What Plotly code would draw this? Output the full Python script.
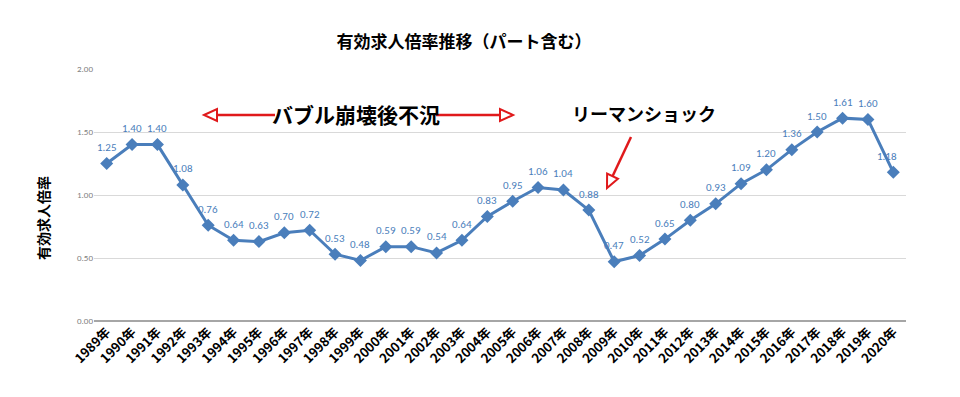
import math
import plotly.graph_objects as go

years = [f"{y}年" for y in range(1989, 2021)]
ratios = [1.25, 1.40, 1.40, 1.08, 0.76, 0.64, 0.63, 0.70, 0.72, 0.53, 0.48, 0.59, 0.59,
          0.54, 0.64, 0.83, 0.95, 1.06, 1.04, 0.88, 0.47, 0.52, 0.65, 0.80, 0.93, 1.09,
          1.20, 1.36, 1.50, 1.61, 1.60, 1.18]
y_ticks = [0.0, 0.5, 1.0, 1.5, 2.0]

BLUE = "#4A7EBB"
RED = "#E0191B"
JP = "Noto Sans CJK JP"
NUM = "Carlito, Calibri, Liberation Sans, sans-serif"

# browser body margin offset
OFF = 8
W, H = 960 - OFF, 397 - OFF
# plot area in page pixels
L, T = 94 - OFF, 69 - OFF
PR, PB = 906 - OFF, 321 - OFF
PW, PH = PR - L, PB - T


def px(x):
    return (x - OFF - L) / PW


def py(y):
    return (PB - (y - OFF)) / PH


fig = go.Figure()
fig.add_trace(go.Scatter(
    x=years, y=ratios, mode="lines+markers",
    line=dict(color=BLUE, width=3),
    marker=dict(symbol="diamond", size=10, color=BLUE),
    hoverinfo="skip",
))

shapes = []


def open_tri(tip, base_from, length=13, half=6):
    dx, dy = tip[0] - base_from[0], tip[1] - base_from[1]
    d = math.hypot(dx, dy)
    ux, uy = dx / d, dy / d
    bx, by = tip[0] - ux * length, tip[1] - uy * length
    nx, ny = -uy, ux
    p1 = (bx + nx * half, by + ny * half)
    p2 = (bx - nx * half, by - ny * half)
    path = "M {} {} L {} {} L {} {} Z".format(px(tip[0]), py(tip[1]), px(p1[0]), py(p1[1]),
                                             px(p2[0]), py(p2[1]))
    shapes.append(dict(type="path", xref="paper", yref="paper", path=path,
                       line=dict(color=RED, width=2), fillcolor="white"))
    return (bx, by)


def arrow(start, tip):
    base = open_tri(tip, start)
    shapes.append(dict(type="line", xref="paper", yref="paper",
                       x0=px(start[0]), y0=py(start[1]), x1=px(base[0]), y1=py(base[1]),
                       line=dict(color=RED, width=2.5)))


arrow((275, 115), (204, 115))
arrow((436, 115), (513, 115))
arrow((631, 137), (607, 188))

annotations = [
    dict(text="有効求人倍率", x=px(43), y=py(218), xref="paper", yref="paper",
         textangle=-90, showarrow=False, xanchor="center", yanchor="middle",
         font=dict(family=JP, size=14, color="#000000", weight="bold")),
    dict(text="バブル崩壊後不況", x=px(356), y=py(114), xref="paper", yref="paper",
         showarrow=False, xanchor="center", yanchor="middle",
         font=dict(family=JP, size=21, color="#000000", weight="bold")),
    dict(text="リーマンショック", x=px(644), y=py(113), xref="paper", yref="paper",
         showarrow=False, xanchor="center", yanchor="middle",
         font=dict(family=JP, size=18, color="#000000", weight="bold")),
]
for i, (yr, v) in enumerate(zip(years, ratios)):
    annotations.append(dict(
        x=yr, y=v, xref="x", yref="y", text=f"{v:.2f}", showarrow=False,
        yshift=16, xshift=-6 if i == len(years) - 1 else 0,
        font=dict(family=NUM, size=11, color=BLUE)))

fig.update_layout(
    width=W, height=H,
    margin=dict(l=L, r=W - PR, t=T, b=H - PB, autoexpand=False),
    paper_bgcolor="white", plot_bgcolor="white",
    showlegend=False,
    title=dict(text="有効求人倍率推移（パート含む）", x=(464 - OFF) / W, xanchor="center",
               y=1 - (42 - OFF) / H, yanchor="middle",
               font=dict(family=JP, size=17, color="#000000", weight="bold")),
    xaxis=dict(type="category", tickangle=-45, showgrid=False,
               tickfont=dict(family=JP, size=13, color="#000000", weight="bold"),
               showline=False, ticks="", range=[-0.5, len(years) - 0.5]),
    yaxis=dict(range=[0, 2.0], tickvals=y_ticks, tickformat=".2f",
               tickfont=dict(family=NUM, size=9, color="#7F7F7F"),
               gridcolor="#D9D9D9", gridwidth=1, zeroline=True, zerolinecolor="#A6A6A6",
               zerolinewidth=1.5, ticks="", showline=False),
    shapes=shapes,
    annotations=annotations,
)

fig.write_html("out.html")
